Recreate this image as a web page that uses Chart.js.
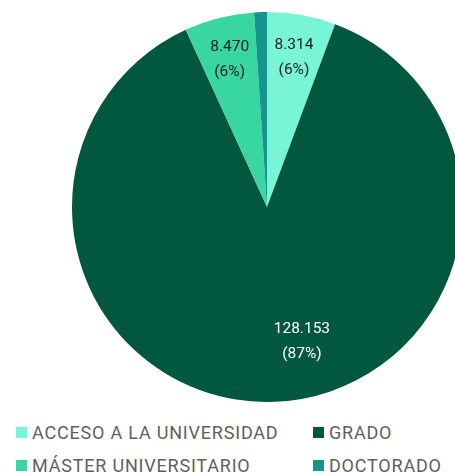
<!DOCTYPE html>
<html lang="es">
<head>
<meta charset="UTF-8">
<title>Estudiantes por nivel</title>
<script src="https://cdn.jsdelivr.net/npm/chart.js@4.4.1/dist/chart.umd.min.js"></script>
<style>
    html, body { margin: 0; padding: 0; background: #fff; overflow: hidden; width: 455px; height: 473px; }
    .chart-box { position: absolute; left: 0; top: 0; width: 534px; height: 402px; }
    .legend { position: absolute; left: 16px; top: 421px; display: grid; grid-template-columns: 297px auto; row-gap: 11px; font-family: Roboto, sans-serif; font-size: 18px; letter-spacing: 0.8px; color: #5f5f5f; }
    .legend-item { display: flex; align-items: center; height: 22px; white-space: nowrap; }
    .legend-box { width: 11px; height: 11px; margin-right: 5px; }
</style>
</head>
<body>
<div class="chart-box"><canvas id="pie"></canvas></div>
<div class="legend" id="legend"></div>

<script>
    // data
    const labels = ['ACCESO A LA UNIVERSIDAD', 'GRADO', 'MÁSTER UNIVERSITARIO', 'DOCTORADO'];
    const values = [8314, 128153, 8470, 1550];
    const colors = ['#78f5d7', '#02573f', '#38d6a0', '#15958c'];
    const textColors = ['#222222', '#ffffff', '#222222', '#222222'];

    // legend order is row by row: acceso, grado / master, doctorado
    const legendEl = document.getElementById('legend');
    labels.forEach(function (lbl, i) {
        const item = document.createElement('div');
        item.className = 'legend-item';
        item.innerHTML = '<span class="legend-box" style="background:' + colors[i] + '"></span>' + lbl;
        legendEl.appendChild(item);
    });

    const fmtNum = n => String(n).replace(/\B(?=(\d{3})+(?!\d))/g, '.');

    // draws "value (pct%)" inside each slice
    const sliceLabels = {
        id: 'sliceLabels',
        afterDatasetsDraw(chart, args, opts) {
            const ctx = chart.ctx;
            const meta = chart.getDatasetMeta(0);
            const data = chart.data.datasets[0].data;
            const total = data.reduce((a, b) => a + b, 0);
            ctx.save();
            ctx.font = '15.5px Roboto, sans-serif';
            ctx.textAlign = 'center';
            ctx.textBaseline = 'middle';
            meta.data.forEach(function (arc, i) {
                const pct = data[i] / total;
                if (pct < 0.03) return;
                const p = arc.getProps(['x', 'y', 'startAngle', 'endAngle', 'outerRadius'], true);
                const mid = (p.startAngle + p.endAngle) / 2 + (opts.shift[i] || 0) * Math.PI / 180;
                const r = p.outerRadius * (opts.dist[i] || 0.77);
                const cx = p.x + Math.cos(mid) * r;
                const cy = p.y + Math.sin(mid) * r;
                ctx.fillStyle = textColors[i];
                ctx.fillText(fmtNum(data[i]), cx, cy - 12);
                ctx.fillText('(' + Math.round(pct * 100) + '%)', cx, cy + 13);
            });
            ctx.restore();
        }
    };

    new Chart(document.getElementById('pie'), {
        type: 'pie',
        data: {
            labels: labels,
            datasets: [{
                data: values,
                backgroundColor: colors,
                borderWidth: 0
            }]
        },
        options: {
            responsive: true,
            maintainAspectRatio: false,
            animation: false,
            layout: { padding: { left: 72, right: 72, top: 12, bottom: 0 } },
            plugins: {
                legend: { display: false },
                tooltip: { enabled: false },
                sliceLabels: { dist: [0.78, 0.71, 0.78, 0.77], shift: [0, -12.5, 0, 0] }
            }
        },
        plugins: [sliceLabels]
    });
</script>
</body>
</html>
